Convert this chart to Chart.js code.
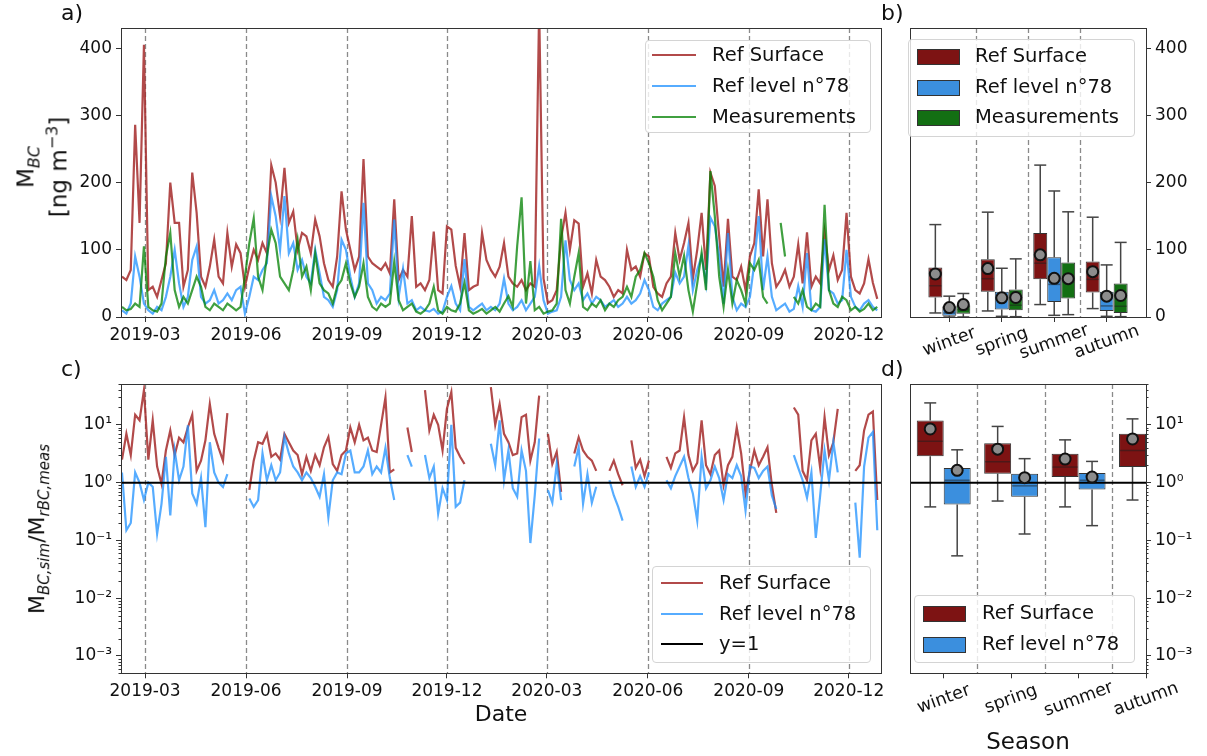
<!DOCTYPE html>
<html>
<head>
<meta charset="utf-8">
<script src="https://cdn.jsdelivr.net/npm/chart.js@4.4.1/dist/chart.umd.min.js"></script>
<style>
  body { margin: 0; width: 1207px; height: 756px; overflow: hidden; position: relative; background: #fff;
         font-family: 'DejaVu Sans', sans-serif; color: #111; }
  canvas { position: absolute; }
  .txt { position: absolute; white-space: nowrap; line-height: 1; }
  .rot { position: absolute; white-space: nowrap; line-height: 1.15; text-align: center;
         transform: translate(-50%, -50%) rotate(-90deg); }
  .legend { position: absolute; background: rgba(255,255,255,0.8); border: 1px solid #d4d4d4;
            border-radius: 4px; box-sizing: border-box; font-size: 19.5px; }
  .legend .sw { position: absolute; }
  .legend .lt { position: absolute; line-height: 1; transform: translateY(-52%); white-space: nowrap; }
</style>
</head>
<body>
<canvas id="chartA" width="890" height="345" style="left:0;top:0"></canvas>
<canvas id="chartB" width="317" height="370" style="left:890px;top:0"></canvas>
<canvas id="chartC" width="890" height="411" style="left:0;top:345px"></canvas>
<canvas id="chartD" width="317" height="411" style="left:890px;top:345px"></canvas>

<div class="txt" style="left:61px;top:2px;font-size:22px">a)</div>
<div class="txt" style="left:881px;top:2px;font-size:22px">b)</div>
<div class="txt" style="left:61px;top:358px;font-size:22px">c)</div>
<div class="txt" style="left:881px;top:358px;font-size:22px">d)</div>

<div class="rot" style="left:42px;top:167px;font-size:23px">M<sub style="font-size:16px"><i>BC</i></sub><br>[ng m<sup style="font-size:16px">−3</sup>]</div>
<div class="rot" style="left:39px;top:529px;font-size:22px">M<sub style="font-size:15px"><i>BC,sim</i></sub>/M<sub style="font-size:15px"><i>rBC,meas</i></sub></div>
<div class="txt" style="left:501px;top:714px;font-size:22px;transform:translate(-50%,-50%)">Date</div>
<div class="txt" style="left:1028px;top:741px;font-size:23px;transform:translate(-50%,-50%)">Season</div>

<div class="legend" style="left:645px;top:40px;width:226px;height:93px">
  <div class="sw" style="left:6px;top:13px;width:44px;height:2px;background:rgba(165,42,42,0.85)"></div>
  <div class="lt" style="left:66px;top:14px">Ref Surface</div>
  <div class="sw" style="left:6px;top:44px;width:44px;height:2px;background:rgba(30,144,255,0.75)"></div>
  <div class="lt" style="left:66px;top:45px">Ref level n°78</div>
  <div class="sw" style="left:6px;top:75px;width:44px;height:2px;background:rgba(0,128,0,0.75)"></div>
  <div class="lt" style="left:66px;top:76px">Measurements</div>
</div>
<div class="legend" style="left:908px;top:39px;width:227px;height:98px">
  <div class="sw" style="left:8px;top:9px;width:41px;height:14px;background:#7d1313;border:1px solid #333"></div>
  <div class="lt" style="left:66px;top:16px">Ref Surface</div>
  <div class="sw" style="left:8px;top:40px;width:41px;height:14px;background:#3b8fde;border:1px solid #333"></div>
  <div class="lt" style="left:66px;top:47px">Ref level n°78</div>
  <div class="sw" style="left:8px;top:70px;width:41px;height:14px;background:#136f13;border:1px solid #333"></div>
  <div class="lt" style="left:66px;top:77px">Measurements</div>
</div>
<div class="legend" style="left:652px;top:566px;width:219px;height:97px">
  <div class="sw" style="left:8px;top:15px;width:42px;height:2px;background:rgba(165,42,42,0.85)"></div>
  <div class="lt" style="left:66px;top:16px">Ref Surface</div>
  <div class="sw" style="left:8px;top:46px;width:42px;height:2px;background:rgba(30,144,255,0.75)"></div>
  <div class="lt" style="left:66px;top:47px">Ref level n°78</div>
  <div class="sw" style="left:8px;top:76px;width:42px;height:2px;background:#000"></div>
  <div class="lt" style="left:66px;top:77px">y=1</div>
</div>
<div class="legend" style="left:914px;top:595px;width:221px;height:68px">
  <div class="sw" style="left:8px;top:10px;width:41px;height:14px;background:#7d1313;border:1px solid #333"></div>
  <div class="lt" style="left:67px;top:17px">Ref Surface</div>
  <div class="sw" style="left:8px;top:41px;width:41px;height:14px;background:#3b8fde;border:1px solid #333"></div>
  <div class="lt" style="left:67px;top:48px">Ref level n°78</div>
</div>

<script>
// ---------- time axis ----------
const SERIES_START = '2019-02-08';
const STEP_DAYS = 4;
const MONTH_TICKS = ['2019-03', '2019-06', '2019-09', '2019-12', '2020-03', '2020-06', '2020-09', '2020-12'];
const DAY_MIN = -21.9;   // days from 2019-03-01
const DAY_MAX = 670.4;

// ---------- a) BC mass concentration [ng m-3], one value every 4 days ----------
const surfaceBC = [
  60, 55, 70, 286, 140, 405, 40, 45, 30, 55,
  80, 200, 140, 140, 45, 70, 215, 155, 60, 45,
  75, 115, 60, 50, 125, 75, 108, 95, 45, 75,
  100, 85, 110, 95, 226, 200, 150, 222, 140, 157,
  100, 125, 120, 95, 145, 120, 80, 55, 45, 90,
  187, 130, 100, 70, 90, 235, 90, 80, 75, 70,
  80, 65, 175, 55, 70, 60, 150, 45, 50, 40,
  55, 127, 40, 35, 135, 130, 76, 45, 125, 40,
  45, 48, 125, 85, 70, 60, 75, 110, 60, 50,
  45, 55, 40, 50, 45, 460, 57, 21, 25, 40,
  117, 155, 100, 144, 139, 45, 65, 35, 85, 60,
  55, 45, 30, 40, 35, 100, 70, 75, 60, 95,
  90, 45, 35, 30, 50, 60, 125, 85, 110, 140,
  57, 100, 155, 70, 215, 195, 120, 45, 146, 60,
  55, 75, 40, 90, 110, 190, 90, 175, 80, 45,
  55, 70, 45, 60, 108, 50, 126, 45, 60, 50,
  126, 70, 92, 55, 70, 155, 60, 40, 35, 50,
  86, 51, 27
];
const level78BC = [
  10, 5, 20, 90, 60, 20, 10, 5, 15, 10,
  30, 60, 100, 50, 15, 30, 85, 105, 30, 20,
  25, 40, 20, 25, 35, 25, 40, 45, 5, 30,
  60, 55, 70, 80, 180, 150, 100, 180, 95, 110,
  70, 85, 60, 50, 100, 65, 30, 25, 15, 40,
  115, 100, 60, 30, 50, 170, 50, 40, 20, 30,
  25, 35, 145, 30, 72, 20, 25, 10, 15, 10,
  8, 12, 5, 8, 30, 46, 20, 10, 86, 15,
  10, 15, 20, 10, 15, 10, 20, 57, 20, 10,
  15, 25, 10, 20, 30, 76, 25, 5, 8, 10,
  30, 114, 55, 40, 50, 25, 35, 20, 30, 25,
  15, 20, 25, 15, 20, 30, 20, 25, 35, 55,
  40, 15, 10, 20, 25, 30, 66, 50, 60, 106,
  40, 70, 91, 50, 148, 135, 90, 20, 125, 30,
  10, 20, 15, 30, 80, 150, 40, 90, 30, 10,
  15, 20, 8, 12, 46, 15, 95, 10, 8, 15,
  116, 40, 35, 20, 25, 100, 30, 15, 10, 20,
  25, 15, 10
];
const measuredBC = [
  15, 10, 12, 20, 15, 105, 15, 10, 8, 20,
  90, 125, 40, 15, 30, 20, 40, 60, 45, 15,
  10, 20, 15, 10, 20, 15, 10, 15, 60, 110,
  147, 60, 40, 90, 130, 110, 60, 50, 40, 70,
  115, 60, 75, 40, 95, 50, 40, 35, 20, 45,
  55, 80, 50, 30, 45, 80, 30, 15, 10, 20,
  15, 20, 82, 25, 10, 15, 20, 8, 5, 10,
  20, 45, 10, 5, 15, 10, 8, 20, 51, 10,
  5, 8, 12, 5, 10, 15, 8, 20, 31, 15,
  106, 178, 20, 83, 10, 15, 5, 8, 10, 20,
  146, 40, 20, 60, 95, 15, 10, 20, 15, 25,
  10, 20, 15, 25, 30, 45, 30, 60, 70, 95,
  80, 60, 25, 10, 20, 30, 95, 60, 91, 40,
  8, 50, 96, 40, 217, 150, 60, 15, 70, 20,
  55, 40, 20, 80, 70, 85, 30, 20, null, null,
  140, 90, null, 30, 20, 40, 15, 10, 20, 15,
  167, 40, 20, 15, 30, 25, 10, 15, 8, 12,
  20, 10, 15
];

// ---------- c) simulated / measured ratio, same 4-day steps ----------
const surfaceRatio = [
  2.5, 7, 3, 15, 12, 40, 2.5, 12, 1.9, 0.96,
  3.6, 8, 3, 6, 5, 9, 15, 1.6, 2.4, 5.4,
  23, 7, 4, 2.4, 16, null, null, null, null, 0.75,
  2.4, 5, 4.7, 7, 2.8, 3.2, 2.5, 7, 5, 3.6,
  3, 1.4, 2.8, 1.6, 3, 2, 4.1, 6.2, 2.1, 1.6,
  3, 3.6, 9, 5, 10, 5.4, 6, 3.6, 3.4, 10,
  30, 1.5, 1.7, null, null, 9, 3.4, null, null, 40,
  8, 15, 10, 3.6, 19, 37, 4, 2.8, 2.1, null,
  null, null, null, null, 45, 10, 23, 7, 5, 3,
  3.2, 13.6, 15, 2.4, 5, 32, null, 7, 2.1, 3.4,
  0.69, null, null, 3.2, 6.1, 3.6, 2.8, 2.4, 1.6, null,
  null, 1.6, 2.4, 1.4, 0.9, null, 5.4, 1.8, 2.5, 1.3,
  2.4, null, null, null, 2.8, 1.8, 3.2, 3.6, 13.6, 3,
  1.6, 2.2, 12, 2, 1.4, 3, 3.6, 0.9, 2, 2.8,
  9, 3.2, 0.65, 1.6, 3.6, 2, 2.8, 4.1, 0.9, 0.3,
  null, null, null, 20, 15, 1.6, 1.1, 5.4, 7, 1.8,
  13.6, 3, 5, 19, null, null, null, 1.6, 2, 8,
  15, 17, 0.5
];
const level78Ratio = [
  1.5, 0.15, 0.2, 1.5, 1.0, 0.5, 1.0, 0.85, 0.13, 0.43,
  2.8, 0.27, 3.6, 1.1, 1.9, 9.8, 0.65, 0.43, 1.2, 0.17,
  5, 1.5, 1.0, 0.84, 1.4, null, null, null, null, 0.53,
  0.38, 0.5, 3.2, 1.1, 2, 1.1, 1.5, 6.2, 3.2, 1.9,
  1.5, 1.1, 1.5, 1.2, 0.85, 0.57, 1.4, 0.25, 1.1, 1.5,
  1.4, 3.2, 3.6, 1.5, 1.5, 1.9, 3.6, 1.4, 1.9, 1.5,
  4, 1.2, 0.5, null, null, 3, 1.9, null, null, 3,
  1.2, 1.9, 0.29, 0.8, 0.5, 10, 0.38, 0.45, 1.1, null,
  null, null, null, null, 4.7, 2, 12, 1.1, 3.6, 0.8,
  0.57, 3.6, 1.6, 0.09, 0.6, 5.8, null, 0.74, 0.45, 2.1,
  0.5, null, null, 1.9, 4.1, 0.43, 1.4, 0.45, 0.85, null,
  null, 1.1, 0.6, 0.38, 0.22, null, 1.9, 0.85, 1.3, 0.85,
  1.5, null, null, null, 1.1, 0.8, 1.3, 1.9, 2.8, 1.2,
  0.65, 0.22, 2.8, 0.8, 1.1, 1.9, 1.2, 0.5, 1.4, 1.2,
  2.0, 1.3, 0.33, 1.9, 1.8, 1.2, 1.6, 1.9, 0.6, 0.35,
  null, null, null, 3, 1.8, 1.1, 0.55, 1.5, 0.11, 0.6,
  3.6, 1.1, 5, 1.5, null, null, null, 0.45, 0.05, 1.9,
  6, 7.5, 0.15
];

// ---------- b), d) seasonal box statistics: [whisker low, q1, median, q3, whisker high] ----------
const SEASONS = ['winter', 'spring', 'summer', 'autumn'];
const bSurface = [[6, 29, 46.5, 73.5, 137.5], [9, 37.5, 57, 86, 156], [18.5, 56, 80, 125, 226], [12.5, 36.5, 56, 82.5, 148.5]];
const bSurfaceMean = [64, 72, 92.5, 67.5];
const bLevel78 = [[0, 2, 6, 16, 31], [1, 11, 27, 37.5, 72.5], [2.5, 22.5, 48.5, 89, 187.5], [1, 9, 16.5, 37.5, 77.5]];
const bLevel78Mean = [14, 28.5, 57.5, 31];
const bMeasured = [[0, 5, 11, 17.5, 35], [0.5, 10, 17.5, 41, 86.5], [3.5, 27.5, 52, 81, 156.5], [0.5, 6, 16, 50, 111]];
const bMeasuredMean = [18.5, 29, 57, 32];

const dSurface = [[0.38, 2.85, 5.2, 11.9, 24], [0.48, 1.43, 2.3, 4.8, 9.4], [0.38, 1.25, 1.86, 3.16, 5.5], [0.5, 1.86, 3.6, 7.0, 12.7]];
const dSurfaceMean = [8.5, 3.8, 2.56, 5.7];
const dLevel78 = [[0.054, 0.42, 1.1, 1.8, 3.7], [0.129, 0.57, 0.88, 1.43, 2.6], [0.18, 0.76, 1.1, 1.47, 2.33], null];
const dLevel78Mean = [1.63, 1.22, 1.25, null];

// ---------- styling ----------
const RED_LINE = 'rgba(165,42,42,0.85)';
const BLUE_LINE = 'rgba(30,144,255,0.75)';
const GREEN_LINE = 'rgba(0,128,0,0.75)';
const RED_BOX = '#7d1313';
const BLUE_BOX = '#3b8fde';
const GREEN_BOX = '#136f13';
const RATIO_MIN = 5e-4, RATIO_MAX = 51;
const RATIO_TICKS = [1e-3, 1e-2, 1e-1, 1, 10];

Chart.defaults.font.family = "'DejaVu Sans', sans-serif";
Chart.defaults.font.size = 17;
Chart.defaults.color = '#111';
Chart.defaults.animation = false;
Chart.defaults.plugins.legend.display = false;
Chart.defaults.plugins.tooltip.enabled = false;

const dayOf = (s) => {
  const [y, m, d] = s.split('-').map(Number);
  return (Date.UTC(y, m - 1, d || 1) - Date.UTC(2019, 2, 1)) / 864e5;
};
const tickDays = MONTH_TICKS.map(dayOf);
const seriesDays = surfaceBC.map((_, i) => dayOf(SERIES_START) + i * STEP_DAYS);
const toPoints = (vals) => vals.map((v, i) => ({ x: seriesDays[i], y: v }));

const SUP = { '-': '⁻', '0': '⁰', '1': '¹', '2': '²', '3': '³' };
const pow10Label = (v) => '10' + String(Math.round(Math.log10(v))).split('').map(c => SUP[c]).join('');

const fix = (prop, size) => (s) => {
  s[prop] = size;
  s.paddingLeft = s.paddingRight = s.paddingTop = s.paddingBottom = 0;
};
const tickGrid = { display: true, drawOnChartArea: false, drawTicks: true, tickLength: 5, color: '#333', lineWidth: 1, offset: false };

function line(ctx, x0, y0, x1, y1) {
  ctx.beginPath(); ctx.moveTo(x0, y0); ctx.lineTo(x1, y1); ctx.stroke();
}

// dashed separators, box whiskers, frame, minor log ticks, rotated category labels
const panelDecor = {
  id: 'panelDecor',
  beforeDatasetsDraw(chart, args, opts) {
    const { ctx, chartArea: a } = chart;
    const x = chart.scales.x;
    ctx.save();
    ctx.strokeStyle = '#8a8a8a';
    ctx.lineWidth = 1.3;
    ctx.setLineDash([5, 3]);
    (opts.vlines || []).forEach((v) => {
      const px = Math.round(x.getPixelForValue(v)) + 0.5;
      line(ctx, px, a.top, px, a.bottom);
    });
    ctx.restore();
  },
  afterDatasetDraw(chart, args) {
    const ds = chart.data.datasets[args.index];
    if (!ds.stats) return;
    const { ctx } = chart;
    const y = chart.scales.y;
    ctx.save();
    args.meta.data.forEach((bar, j) => {
      const s = ds.stats[j];
      if (!s) return;
      const [lo, q1, med, q3, hi] = s.map(v => y.getPixelForValue(v));
      const cx = bar.x, half = bar.width / 2;
      ctx.strokeStyle = 'rgba(30,30,30,0.5)';
      ctx.lineWidth = 1.5;
      line(ctx, cx - half + 1, med, cx + half - 1, med);
      ctx.strokeStyle = '#444';
      line(ctx, cx, q3, cx, hi);
      line(ctx, cx, q1, cx, lo);
      line(ctx, cx - 6, hi, cx + 6, hi);
      line(ctx, cx - 6, lo, cx + 6, lo);
    });
    ctx.restore();
  },
  afterDraw(chart, args, opts) {
    const { ctx, chartArea: a } = chart;
    ctx.save();
    ctx.strokeStyle = '#333';
    ctx.lineWidth = 1;
    ctx.strokeRect(Math.round(a.left) + 0.5, Math.round(a.top) + 0.5, Math.round(a.right - a.left), Math.round(a.bottom - a.top));
    if (opts.minorLog) {
      const ys = chart.scales.y;
      const x0 = opts.minorLog === 'left' ? a.left : a.right;
      const dir = opts.minorLog === 'left' ? -1 : 1;
      for (let e = -4; e <= 1; e++) {
        for (let m = 2; m <= 9; m++) {
          const v = m * Math.pow(10, e);
          if (v < ys.min || v > ys.max) continue;
          const py = Math.round(ys.getPixelForValue(v)) + 0.5;
          line(ctx, x0, py, x0 + dir * 2.5, py);
        }
      }
    }
    if (opts.catLabels) {
      const x = chart.scales.x;
      ctx.fillStyle = '#111';
      ctx.font = "17.5px 'DejaVu Sans'";
      ctx.textAlign = 'center';
      ctx.textBaseline = 'middle';
      opts.catLabels.forEach((t, i) => {
        ctx.save();
        ctx.translate(x.getPixelForValue(i), a.bottom + opts.catDy);
        ctx.rotate(-20 * Math.PI / 180);
        ctx.fillText(t, 0, 0);
        ctx.restore();
      });
    }
    ctx.restore();
  }
};
Chart.register(panelDecor);

const timeAxis = (height) => ({
  type: 'linear', min: DAY_MIN, max: DAY_MAX,
  afterBuildTicks: (s) => { s.ticks = tickDays.map(v => ({ value: v })); },
  ticks: { callback: (v, i) => MONTH_TICKS[i], autoSkip: false, maxRotation: 0, padding: 3 },
  grid: tickGrid, border: { display: false },
  afterFit: fix('height', height)
});
const seriesLine = (label, vals, color, order) => ({
  label, data: toPoints(vals), borderColor: color, borderWidth: 2.2,
  pointRadius: 0, tension: 0, spanGaps: false, order
});

// ---------- a) ----------
new Chart(document.getElementById('chartA'), {
  type: 'line',
  data: {
    datasets: [
      seriesLine('Ref Surface', surfaceBC, RED_LINE, 3),
      seriesLine('Ref level n°78', level78BC, BLUE_LINE, 2),
      seriesLine('Measurements', measuredBC, GREEN_LINE, 1)
    ]
  },
  options: {
    responsive: false,
    layout: { autoPadding: false, padding: { left: 0, top: 28, right: 9, bottom: 0 } },
    scales: {
      x: timeAxis(28),
      y: {
        min: 0, max: 430,
        afterBuildTicks: (s) => { s.ticks = [0, 100, 200, 300, 400].map(v => ({ value: v })); },
        ticks: { padding: 4 },
        grid: tickGrid, border: { display: false },
        afterFit: fix('width', 121)
      }
    },
    plugins: { panelDecor: { vlines: tickDays } }
  }
});

// ---------- c) ----------
new Chart(document.getElementById('chartC'), {
  type: 'line',
  data: {
    datasets: [
      seriesLine('Ref Surface', surfaceRatio, RED_LINE, 2),
      seriesLine('Ref level n°78', level78Ratio, BLUE_LINE, 1),
      { label: 'y=1', data: [{ x: DAY_MIN, y: 1 }, { x: DAY_MAX, y: 1 }], borderColor: '#000',
        borderWidth: 2, pointRadius: 0, order: 0 }
    ]
  },
  options: {
    responsive: false,
    layout: { autoPadding: false, padding: { left: 0, top: 39, right: 9, bottom: 0 } },
    scales: {
      x: timeAxis(82.7),
      y: {
        type: 'logarithmic', min: RATIO_MIN, max: RATIO_MAX,
        afterBuildTicks: (s) => { s.ticks = RATIO_TICKS.map(v => ({ value: v })); },
        ticks: { callback: (v) => pow10Label(v), padding: 4 },
        grid: tickGrid, border: { display: false },
        afterFit: fix('width', 121)
      }
    },
    plugins: { panelDecor: { vlines: tickDays, minorLog: 'left' } }
  }
});

// ---------- box panels ----------
const boxSet = (label, stats, color) => ({
  type: 'bar', label, stats,
  data: stats.map((s, i) => ({ x: i, y: s ? [s[1], s[3]] : null })),
  backgroundColor: color, borderColor: '#333', borderWidth: 1, borderSkipped: false,
  categoryPercentage: 0.8, barPercentage: 1, order: 2
});
const meanSet = (groups) => {
  const pts = [];
  groups.forEach((means, k) => {
    const off = (k - (groups.length - 1) / 2) * 0.8 / groups.length;
    means.forEach((m, i) => { if (m != null) pts.push({ x: i + off, y: m }); });
  });
  return { type: 'scatter', data: pts, pointRadius: 5.5, pointBorderWidth: 2,
           pointBackgroundColor: '#8c8c8c', pointBorderColor: '#111', order: 0 };
};
const seasonAxis = (min, max, height) => ({
  type: 'linear', min, max, offset: false,
  afterBuildTicks: (s) => { s.ticks = SEASONS.map((_, i) => ({ value: i })); },
  ticks: { display: false },
  grid: tickGrid, border: { display: false },
  afterFit: fix('height', height)
});

// ---------- b) ----------
new Chart(document.getElementById('chartB'), {
  type: 'bar',
  data: {
    datasets: [
      boxSet('Ref Surface', bSurface, RED_BOX),
      boxSet('Ref level n°78', bLevel78, BLUE_BOX),
      boxSet('Measurements', bMeasured, GREEN_BOX),
      meanSet([bSurfaceMean, bLevel78Mean, bMeasuredMean])
    ]
  },
  options: {
    responsive: false,
    layout: { autoPadding: false, padding: { left: 20, top: 28, right: 0, bottom: 0 } },
    scales: {
      x: seasonAxis(-0.75, 3.75, 53),
      y: {
        position: 'right', min: 0, max: 430,
        afterBuildTicks: (s) => { s.ticks = [0, 100, 200, 300, 400].map(v => ({ value: v })); },
        ticks: { padding: 4 },
        grid: tickGrid, border: { display: false },
        afterFit: fix('width', 61)
      }
    },
    plugins: { panelDecor: { vlines: [0.5, 1.5, 2.5], catLabels: SEASONS, catDy: 25 } }
  }
});

// ---------- d) ----------
new Chart(document.getElementById('chartD'), {
  type: 'bar',
  data: {
    datasets: [
      boxSet('Ref Surface', dSurface, RED_BOX),
      boxSet('Ref level n°78', dLevel78, BLUE_BOX),
      { type: 'line', label: 'y=1', data: [{ x: -0.5, y: 1 }, { x: 3, y: 1 }], borderColor: '#000',
        borderWidth: 2, pointRadius: 0, order: 1 },
      meanSet([dSurfaceMean, dLevel78Mean])
    ]
  },
  options: {
    responsive: false,
    layout: { autoPadding: false, padding: { left: 20, top: 39, right: 0, bottom: 0 } },
    scales: {
      x: seasonAxis(-0.5, 3.0, 82.7),
      y: {
        type: 'logarithmic', position: 'right', min: RATIO_MIN, max: RATIO_MAX,
        afterBuildTicks: (s) => { s.ticks = RATIO_TICKS.map(v => ({ value: v })); },
        ticks: { callback: (v) => pow10Label(v), padding: 4 },
        grid: tickGrid, border: { display: false },
        afterFit: fix('width', 61)
      }
    },
    plugins: { panelDecor: { vlines: [0.5, 1.5, 2.5], minorLog: 'right', catLabels: SEASONS, catDy: 26 } }
  }
});
</script>
</body>
</html>
